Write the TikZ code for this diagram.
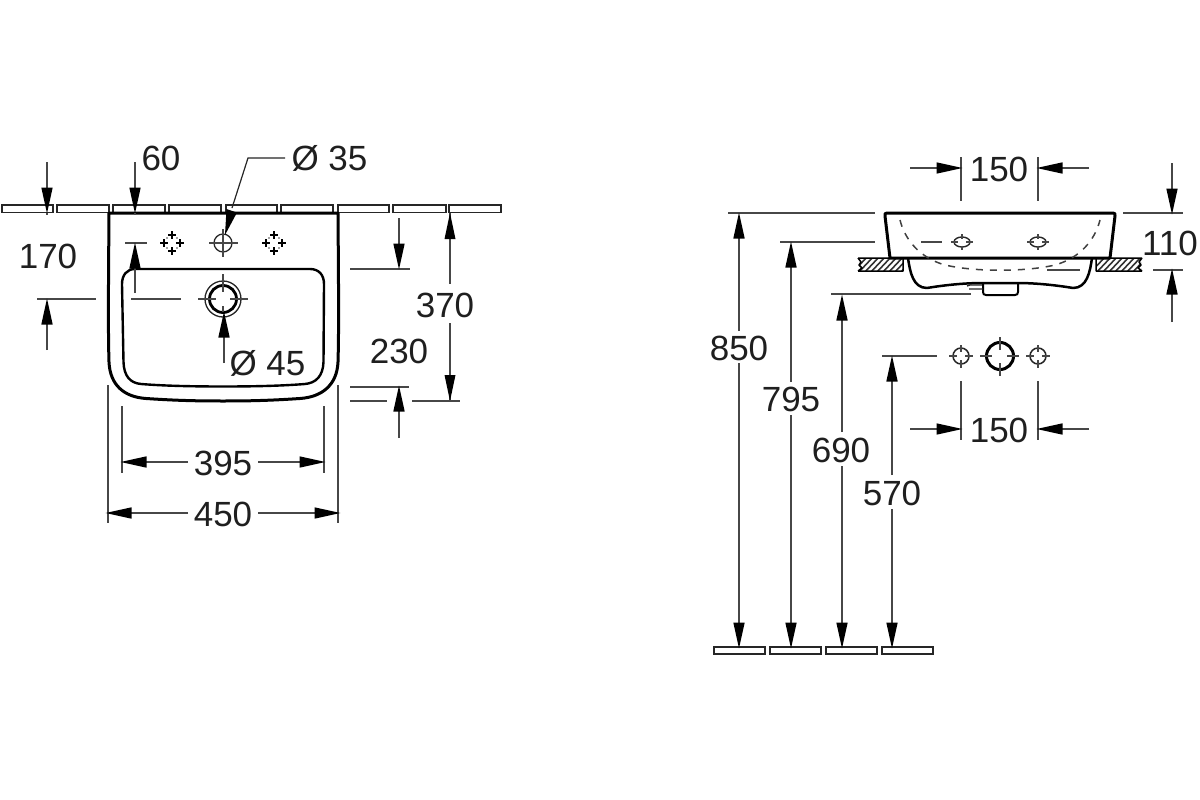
\documentclass[tikz,border=0pt]{standalone}
\usepackage{fontspec}
\setmainfont{Liberation Sans}
\usetikzlibrary{arrows.meta}
\tikzset{
  x=1pt,y=-1pt,
  dimline/.style={draw=black!72,line width=1.5pt},
  dimarrow/.style={dimline,-{Triangle[length=26pt,width=11pt,color=black]},shorten >=-0.5pt},
  tick/.style={draw=black!72,line width=1.5pt},
  thick outline/.style={draw=black,line width=3pt,line join=round},
  medium outline/.style={draw=black,line width=2pt,line join=round},
  thin outline/.style={draw=black!85,line width=1.3pt},
  plate/.style={draw=black!85,line width=1.5pt,fill=white},
  label/.style={font=\fontsize{35}{37}\selectfont,text=black!88,inner sep=0pt},
  hidden/.style={draw=black!75,line width=1.5pt,dash pattern=on 7pt off 7pt},
  hatch/.style={draw=black!80,line width=1.6pt},
}
\newcommand{\smallcross}[2]{%
  \foreach \dx/\dy in {-8/0,8/0,0/-8,0/8}{
    \draw[draw=black,line width=1.2pt] (#1+\dx-4,#2+\dy) -- (#1+\dx+4,#2+\dy)
      (#1+\dx,#2+\dy-4) -- (#1+\dx,#2+\dy+4);}
  \foreach \dx/\dy in {-5/-5,5/-5,-5/5,5/5}{
    \fill[black!70] (#1+\dx,#2+\dy) circle (0.8);}
}
\begin{document}
\begin{tikzpicture}
\useasboundingbox[fill=white] (0,0) rectangle (1200,800);

% ---------- left view : wall plates
\foreach \a/\b in {2/53,57/109,113/165,169/221,226/277,281/333,338/389,393/446,449/501}
  \draw[plate] (\a,205) rectangle (\b,212.5);

% basin outlines
\draw[thick outline] (109,213) -- (338,213)
  .. controls (338.5,280) and (339,330) .. (338,362)
  .. controls (337,385) and (322,397) .. (300,398.5)
  .. controls (270,400.5) and (250,401) .. (223,401)
  .. controls (196,401) and (176,400.5) .. (146,398.5)
  .. controls (124,397) and (110,385) .. (109,362)
  .. controls (108,330) and (108.5,280) .. (109,213) -- cycle;
\draw[medium outline,line width=2.4pt] (135,269) -- (310,269)
  .. controls (319,269) and (324,275) .. (324,284)
  -- (323.5,362)
  .. controls (323,376) and (316,383) .. (305,384)
  .. controls (280,386) and (250,386.5) .. (223,386.5)
  .. controls (196,386.5) and (166,386) .. (141,384)
  .. controls (130,383) and (124,376) .. (123.5,362)
  -- (122,284)
  .. controls (122,275) and (127,269) .. (135,269) -- cycle;

% tap hole and its neighbours
\draw[thin outline] (223,243) circle (9);
\draw[tick] (209,243) -- (238,243) (223,229) -- (223,257);
\smallcross{172}{243}
\smallcross{274}{243}

% drain
\draw[thin outline] (223,299) circle (18);
\draw[thick outline,line width=2.8pt] (223,299) circle (13.5);
\draw[tick] (198,299) -- (216,299) (230,299) -- (248,299)
  (223,274) -- (223,292) (223,306) -- (223,312);

% labels left
\node[label] (l60) at (161,158) {60};
\node[label] (d35) at (329.5,158) {Ø 35};
\node[label] (l170) at (48,256) {170};
\node[label] (l370) at (445,305) {370};
\node[label] (l230) at (399,351) {230};
\node[label] (d45) at (267.5,363) {Ø 45};
\node[label] (l395) at (223,463) {395};
\node[label] (l450) at (223,514) {450};

% dimension 60 / 170 top arrows
\draw[dimarrow] (47,162) -- (47,213);
\draw[dimarrow] (135,162) -- (135,213);
\draw[tick] (47,213) -- (47,215) (135,213) -- (135,215);
% dimension 170
\draw[tick] (125,243) -- (147,243);
\draw[dimarrow] (135,293) -- (135,243);
\draw[tick] (37,299) -- (96,299) (131,299) -- (181,299);
\draw[dimarrow] (47,350) -- (47,299);
% leader Ø35
\draw[draw=black!85,line width=1.2pt] (285,158) -- (248,158) -- (232,208);
\draw[draw=none,fill=black] (225,235) -- (226.5,209) -- (237,212.5) -- cycle;
% Ø45
\draw[dimarrow] (224,363) -- (224,312);
% dimension 370 and ticks
\draw[dimline] (450,213) -- (450,284);
\fill[black] (450,213) -- (444.5,239) -- (455.5,239) -- cycle;
\draw[dimline] (450,323) -- (450,401);
\fill[black] (450,401) -- (444.5,375) -- (455.5,375) -- cycle;
\draw[tick] (350,269) -- (410,269);
\draw[dimarrow] (399,218) -- (399,269);
\draw[tick] (350,387) -- (409,387) (350,401) -- (387,401) (412,401) -- (460,401);
\draw[dimarrow] (399,438) -- (399,386);
% 395 / 450
\draw[tick] (122,406) -- (122,473) (324,406) -- (324,473);
\draw[tick] (108,385) -- (108,523) (338,385) -- (338,523);
\draw[dimarrow] (188,462) -- (121,462);
\draw[dimarrow] (258,462) -- (325,462);
\draw[dimarrow] (188,513) -- (106,513);
\draw[dimarrow] (258,513) -- (340,513);

% ---------- right view
% hatched wall
\begin{scope}
  \clip (859,258) rectangle (903,271);
  \foreach \i in {0,...,10} \draw[hatch] (852+\i*6,273) -- (868+\i*6,256);
\end{scope}
\begin{scope}
  \clip (1097,258) rectangle (1141,271);
  \foreach \i in {0,...,10} \draw[hatch] (1090+\i*6,273) -- (1106+\i*6,256);
\end{scope}
\draw[medium outline,line width=1.5pt] (858,258) -- (903,258) -- (903,271) -- (858,271)
  (858,258) -- (861,262) -- (859,265) -- (862,268) -- (858,271);
\draw[medium outline,line width=1.5pt] (1142,258) -- (1096,258) -- (1096,271) -- (1142,271)
  (1142,258) -- (1139,262) -- (1141,265) -- (1138,268) -- (1142,271);

% basin side view
\draw[thick outline] (887,213) -- (1113,213)
  .. controls (1115,213) and (1115.5,214) .. (1115,216)
  -- (1110,258) -- (890,258) -- (885,216)
  .. controls (884.5,214) and (885,213) .. (887,213) -- cycle;
\draw[medium outline,line width=2.5pt] (908,258)
  .. controls (910,272) and (913,288) .. (927,288)
  .. controls (945,285) and (965,283) .. (983,283)
  -- (1017,283)
  .. controls (1035,283) and (1055,285) .. (1073,288)
  .. controls (1087,288) and (1090,272) .. (1092,258);
\draw[medium outline] (983,283) -- (983,292) .. controls (983,294) and (984,295) .. (986,295)
  -- (1015,295) .. controls (1017,295) and (1018,294) .. (1018,292) -- (1018,283);
\draw[thin outline] (967,286) -- (970,285) -- (982,285) (969,289) -- (983,289);
% hidden bowl
\draw[hidden] (900,220) .. controls (905,240) and (920,258) .. (945,265)
  .. controls (975,272) and (1025,272) .. (1055,265)
  .. controls (1080,258) and (1095,240) .. (1100,220);
\draw[tick] (921,242) -- (942,242) (1047,270) -- (1080,270);
% holes in side view
\foreach \hx in {962,1038}{
  \draw[thin outline,line width=1.4pt] (\hx,242) ellipse (8 and 5);
  \draw[tick,line width=1.1pt] (\hx-11,242) -- (\hx-4,242) (\hx+4,242) -- (\hx+11,242)
     (\hx,234) -- (\hx,238.5) (\hx,245.5) -- (\hx,250);
}
% hole pattern
\foreach \hx in {961,1038}{
  \draw[thin outline,line width=1.5pt] (\hx,356) circle (8);
  \draw[tick,line width=1.2pt] (\hx-12,356) -- (\hx-4,356) (\hx+4,356) -- (\hx+12,356)
     (\hx,345) -- (\hx,352) (\hx,360) -- (\hx,368);
}
\draw[thick outline] (1000,356) circle (13.5);
\draw[tick] (980,356) -- (992,356) (1007,356) -- (1019,356)
  (1000,337) -- (1000,350) (1000,363) -- (1000,376);

% right labels
\node[label] (r150a) at (999,169) {150};
\node[label] (r110) at (1170,243) {110};
\node[label] (r150b) at (999,430) {150};
\node[label] (r850) at (739,348) {850};
\node[label] (r795) at (791,399) {795};
\node[label] (r690) at (841,450) {690};
\node[label] (r570) at (892,493) {570};

% floor plates
\foreach \a/\b in {714/765,770/821,826/877,882/933}
  \draw[plate] (\a,647) rectangle (\b,654);

% height ticks
\draw[tick] (728,213) -- (875,213) (780,242) -- (875,242) (831,294) -- (971,294)
  (882,356) -- (937,356);
% height dimensions
\foreach \xx/\ytop/\ya/\yb in {739/213/331/363,791/242/382/415,842/295/432/466,892/356/475/509}{
  \draw[dimarrow] (\xx,\ya) -- (\xx,\ytop);
  \draw[dimarrow] (\xx,\yb) -- (\xx,648);
}
% 150 top
\draw[tick] (961,157) -- (961,201) (1038,157) -- (1038,201);
\draw[dimarrow] (910,168) -- (962,168);
\draw[dimarrow] (1089,168) -- (1037,168);
% 150 lower
\draw[tick] (961,381) -- (961,440) (1038,381) -- (1038,440);
\draw[dimarrow] (910,429) -- (962,429);
\draw[dimarrow] (1089,429) -- (1037,429);
% 110
\draw[tick] (1123,213) -- (1183,213) (1153,270) -- (1183,270);
\draw[dimarrow] (1172,163) -- (1172,214);
\draw[dimarrow] (1172,322) -- (1172,269);
\end{tikzpicture}
\end{document}
